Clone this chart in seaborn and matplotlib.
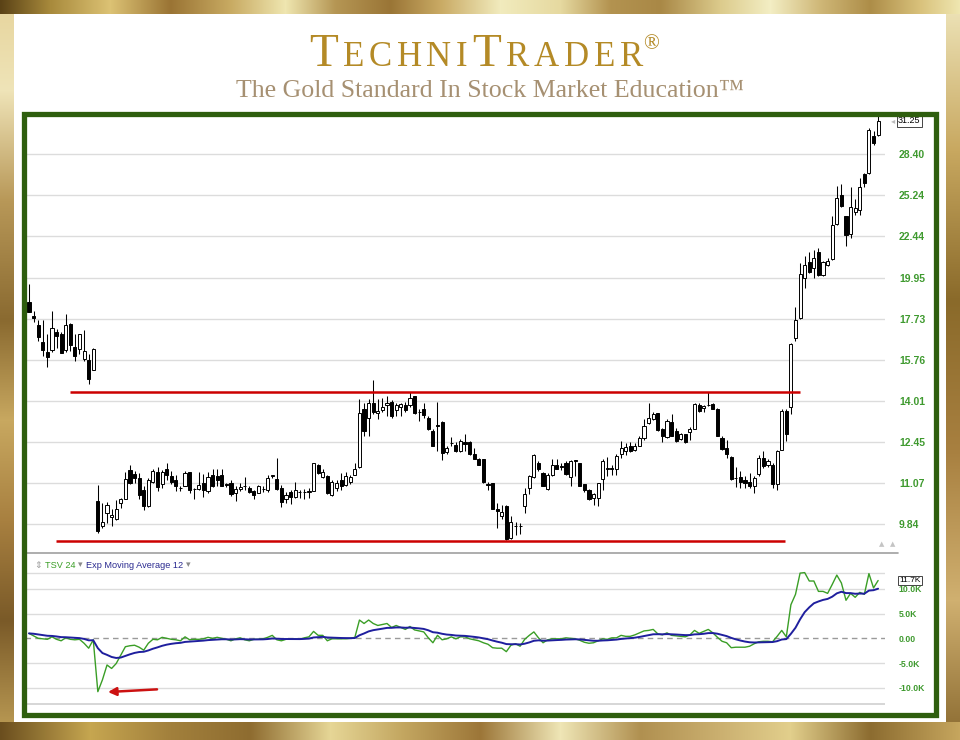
import numpy as np
import pandas as pd
import matplotlib
matplotlib.use("Agg")
import matplotlib.pyplot as plt
from matplotlib.colors import to_rgb
from matplotlib.patches import Rectangle
from matplotlib.lines import Line2D
from matplotlib.ticker import FixedLocator, NullLocator, NullFormatter
import seaborn as sns

# daily candles (oldest first)
OPEN = [18.61, 17.85, 17.39, 16.59, 16.11, 16.19, 17.07, 16.99, 16.19, 17.47,
        16.35, 16.24, 15.79, 15.76, 15.30, 10.51, 9.77, 10.16, 10.03, 9.98,
        10.46, 10.58, 11.48, 11.36, 11.23, 10.86, 10.36, 11.11, 11.43, 11.03,
        11.53, 11.28, 11.15, 10.91, 10.98, 11.42, 10.89, 10.88, 11.06, 10.81,
        11.34, 11.28, 11.34, 11.02, 11.06, 10.76, 10.88, 10.98, 10.91, 10.81,
        10.76, 10.88, 10.86, 11.30, 11.19, 10.90, 10.58, 10.78, 10.64, 10.78,
        10.79, 10.80, 10.83, 11.67, 11.26, 11.28, 10.68, 10.91, 11.17, 11.01,
        11.11, 11.34, 11.58, 13.67, 13.35, 13.92, 13.51, 13.64, 13.86, 13.98,
        13.64, 13.75, 13.86, 13.83, 14.19, 13.57, 13.67, 13.35, 12.84, 13.06,
        13.18, 12.09, 12.43, 12.35, 12.12, 12.46, 12.46, 12.04, 11.87, 11.84,
        11.02, 11.06, 10.28, 10.08, 10.36, 9.46, 9.79, 9.78, 10.36, 10.91,
        11.26, 11.71, 11.40, 10.89, 11.34, 11.64, 11.61, 11.71, 11.26, 11.81,
        11.71, 11.02, 10.86, 10.61, 10.61, 11.19, 11.52, 11.54, 11.51, 12.01,
        12.12, 12.32, 12.15, 12.32, 12.59, 13.13, 13.29, 13.51, 12.91, 12.63,
        13.20, 12.84, 12.55, 12.72, 12.80, 12.93, 13.86, 13.73, 13.85, 13.89,
        13.69, 12.59, 12.24, 11.93, 11.23, 11.26, 11.17, 11.11, 10.98, 11.37,
        11.90, 11.64, 11.67, 11.04, 12.18, 13.60, 13.77, 16.75, 17.77, 19.93,
        20.88, 20.50, 21.48, 20.07, 20.65, 21.04, 23.26, 25.24, 23.78, 22.58,
        24.10, 24.24, 26.87, 26.90, 29.96, 30.05]
HIGH = [19.57, 18.12, 17.68, 17.68, 16.96, 18.12, 17.23, 17.05, 17.95, 17.52,
        16.96, 16.99, 17.16, 16.00, 16.29, 11.01, 10.46, 10.48, 10.28, 10.53,
        10.61, 11.42, 11.64, 11.45, 11.40, 10.96, 11.23, 11.51, 11.60, 11.48,
        11.71, 11.45, 11.34, 10.98, 11.45, 11.42, 10.91, 11.42, 11.36, 11.42,
        11.53, 11.53, 11.51, 11.08, 11.17, 10.98, 11.06, 11.26, 10.96, 10.86,
        11.01, 10.98, 11.31, 11.34, 11.89, 11.01, 10.78, 10.86, 11.11, 10.86,
        10.88, 10.91, 11.73, 11.70, 11.51, 11.31, 11.17, 11.17, 11.40, 11.42,
        11.31, 11.71, 14.08, 13.94, 14.08, 14.87, 14.08, 14.12, 14.22, 14.05,
        13.94, 13.94, 13.98, 14.36, 14.22, 13.69, 13.92, 13.41, 12.91, 13.98,
        13.22, 12.32, 12.63, 12.46, 12.55, 12.75, 12.50, 12.24, 11.90, 11.87,
        11.11, 11.06, 10.44, 10.38, 10.38, 10.06, 9.91, 9.88, 10.91, 11.34,
        12.01, 11.79, 11.42, 11.40, 11.87, 11.84, 11.73, 11.79, 11.82, 11.82,
        11.73, 11.04, 10.88, 10.76, 11.08, 11.87, 11.94, 11.67, 12.01, 12.49,
        12.42, 12.46, 12.40, 12.65, 13.31, 13.94, 13.56, 13.54, 12.97, 13.29,
        13.48, 12.97, 12.78, 12.75, 13.01, 13.94, 13.92, 13.86, 14.36, 13.92,
        13.73, 12.65, 12.53, 11.95, 11.60, 11.45, 11.28, 11.40, 11.28, 11.98,
        12.12, 11.84, 11.73, 12.18, 13.67, 13.69, 16.53, 18.31, 20.80, 21.24,
        21.46, 21.60, 21.69, 20.94, 21.08, 23.82, 25.94, 26.07, 23.82, 25.89,
        25.01, 26.57, 26.94, 30.63, 30.33, 31.69]
LOW = [18.05, 17.55, 16.64, 15.95, 15.43, 16.11, 16.32, 16.05, 16.11, 16.16,
       15.71, 16.00, 15.71, 14.68, 15.30, 9.59, 9.73, 9.88, 9.77, 9.96,
       10.31, 10.56, 11.04, 11.06, 10.58, 10.24, 10.34, 11.06, 10.81, 10.92,
       11.17, 11.04, 10.81, 10.81, 10.96, 10.76, 10.56, 10.84, 10.63, 10.76,
       10.94, 10.98, 10.96, 10.93, 10.66, 10.51, 10.81, 10.86, 10.76, 10.58,
       10.74, 10.78, 10.78, 11.23, 10.86, 10.34, 10.46, 10.41, 10.61, 10.61,
       10.56, 10.61, 10.81, 11.37, 11.23, 10.71, 10.66, 10.81, 10.86, 10.96,
       11.04, 11.31, 11.56, 12.65, 12.65, 13.48, 13.29, 13.56, 13.41, 13.35,
       13.41, 13.41, 13.56, 13.78, 13.48, 13.22, 13.35, 12.88, 12.29, 12.12,
       11.82, 12.01, 12.32, 12.09, 12.09, 12.12, 11.98, 11.84, 11.64, 11.08,
       10.86, 10.26, 9.73, 9.98, 9.41, 9.43, 9.53, 9.55, 10.16, 10.71,
       11.23, 11.45, 10.96, 10.86, 11.28, 11.51, 11.48, 11.34, 10.98, 11.28,
       10.96, 10.78, 10.54, 10.38, 10.36, 10.86, 11.28, 11.31, 11.31, 11.90,
       11.98, 12.09, 12.12, 12.29, 12.53, 13.10, 13.26, 12.84, 12.46, 12.59,
       12.65, 12.46, 12.53, 12.41, 12.53, 12.91, 13.56, 13.56, 13.80, 13.67,
       12.65, 12.16, 11.90, 11.17, 10.94, 10.91, 10.91, 10.91, 10.74, 11.28,
       11.56, 11.60, 10.91, 10.86, 12.16, 12.50, 13.48, 16.64, 17.72, 19.38,
       20.23, 19.93, 20.03, 20.03, 20.60, 21.00, 23.19, 24.40, 21.85, 22.36,
       23.87, 23.87, 25.89, 26.82, 29.18, 29.96]
CLOSE = [18.07, 17.77, 16.80, 16.19, 15.87, 17.28, 16.88, 16.08, 17.39, 16.43,
         15.95, 16.99, 16.16, 14.93, 16.24, 9.64, 9.89, 10.38, 10.11, 10.28,
         10.56, 11.19, 11.06, 11.23, 10.68, 10.36, 11.17, 11.47, 10.93, 11.43,
         11.31, 11.11, 10.98, 10.90, 11.40, 10.86, 10.87, 11.01, 10.84, 11.26,
         10.98, 11.15, 10.98, 11.00, 10.71, 10.88, 10.94, 10.97, 10.80, 10.68,
         10.96, 10.89, 11.23, 11.31, 10.89, 10.48, 10.68, 10.64, 10.84, 10.79,
         10.78, 10.81, 11.71, 11.40, 11.42, 10.74, 11.11, 11.06, 10.98, 11.28,
         11.26, 11.51, 13.54, 12.84, 13.92, 13.56, 13.60, 13.77, 13.94, 13.41,
         13.86, 13.88, 13.64, 14.12, 13.51, 13.56, 13.44, 12.91, 12.32, 13.05,
         12.07, 12.24, 12.42, 12.12, 12.49, 12.37, 12.01, 11.87, 11.67, 11.11,
         11.01, 10.28, 10.21, 10.19, 9.43, 9.91, 9.78, 9.79, 10.71, 11.28,
         11.98, 11.53, 10.98, 11.34, 11.67, 11.53, 11.59, 11.37, 11.79, 11.80,
         10.98, 10.84, 10.56, 10.71, 11.06, 11.79, 11.54, 11.53, 11.96, 12.24,
         12.27, 12.12, 12.29, 12.59, 13.03, 13.35, 13.50, 12.88, 12.65, 13.22,
         12.68, 12.49, 12.72, 12.46, 12.93, 13.89, 13.60, 13.82, 13.86, 13.69,
         12.68, 12.20, 12.01, 11.19, 11.22, 11.11, 11.08, 10.96, 11.23, 11.90,
         11.62, 11.79, 11.04, 12.12, 13.60, 12.75, 16.48, 17.68, 20.13, 20.68,
         20.27, 21.08, 20.07, 20.84, 20.94, 23.19, 25.08, 24.47, 22.51, 24.40,
         24.33, 25.89, 26.14, 30.48, 29.33, 31.25]

# TSV 24, thousands
TSV_K = [1.0, 0.5, 0.0, -0.1, -0.2, 0.3, -0.2, -0.5, 0.1, -0.2,
         -0.3, -0.2, -1.0, -2.0, -0.3, -10.8, -8.4, -5.4, -6.1, -5.1,
         -3.4, -1.7, -1.5, -1.4, -1.8, -2.4, -1.0, -0.2, -0.3, 0.2,
         0.0, -0.2, -0.3, -0.5, 0.3, -0.3, -0.2, -0.2, -0.1, 0.2,
         0.0, 0.2, 0.0, -0.2, -0.5, -0.1, 0.1, -0.3, -0.5, -0.2,
         -0.2, -0.1, 0.2, 0.6, -0.3, -0.5, -0.2, -0.2, -0.1, -0.2,
         0.1, 0.3, 1.4, 0.6, 0.6, -0.5, -0.1, -0.1, -0.1, -0.1,
         0.0, 0.2, 3.7, 3.0, 3.7, 3.0, 2.6, 2.8, 3.0, 2.2,
         2.6, 2.2, 1.8, 2.4, 1.7, 1.5, 1.3, 0.1, -0.9, 0.6,
         -0.3, -0.1, 0.3, -0.1, 0.3, 0.3, -0.1, -0.3, -0.5, -0.9,
         -1.2, -1.9, -2.0, -2.0, -2.7, -1.4, -1.1, -1.6, -0.2, 0.6,
         1.3, 0.1, -0.9, -0.3, -0.1, -0.1, -0.1, 0.1, 0.0, -0.1,
         -0.4, -0.8, -1.0, -0.9, -0.5, -0.1, -0.2, 0.1, 0.1, 0.6,
         0.4, 0.4, 0.7, 1.1, 1.5, 1.6, 1.8, 0.9, 0.7, 1.1,
         0.6, 0.5, 0.4, 0.3, 0.7, 1.6, 1.0, 1.4, 1.8, 1.1,
         0.2, -0.6, -0.9, -1.9, -1.8, -1.8, -1.8, -1.6, -1.1, -0.7,
         -0.6, -0.6, -0.7, 0.4, 1.6, 0.3, 6.8, 8.9, 13.2, 13.3,
         11.6, 11.6, 9.5, 9.5, 9.1, 10.9, 12.8, 11.2, 7.7, 9.1,
         8.3, 9.3, 8.9, 13.1, 10.2, 11.7]
EMA_SPAN = 12

PRICE_TICKS = [9.84, 11.07, 12.45, 14.01, 15.76, 17.73, 19.95, 22.44, 25.24, 28.40]
TSV_TICKS = [-10, -5, 0, 5, 10]
TSV_TICK_LABELS = ["-10.0K", "-5.0K", "0.00", "5.0K", "10.0K"]
TSV_GRID = [-10, -5, 5, 10, 13.2]

# drawn trend lines: (level, first bar, last bar)
RESISTANCE = (14.38, 9.0, 168.0)
SUPPORT = (9.37, 5.8, 164.7)
ARROW_TAIL = (28.5, -10.3)
ARROW_HEAD = (16.6, -10.9)

W, H = 960, 740
GOLD = "#b48a26"
TICK_GREEN = "#3f9a2f"


def fx(px):
    return px / W


def fy(py):
    return 1 - py / H


def gradient(stops, n):
    pos = [p for p, _ in stops]
    cols = np.array([to_rgb(c) for _, c in stops])
    grid = np.arange(n)
    return np.stack([np.interp(grid, pos, cols[:, k]) for k in range(3)], axis=1)


def draw_run(fig, pieces, x0, x1, base_y, color, family):
    r = fig.canvas.get_renderer()
    texts = [fig.text(0, fy(base_y), s, fontsize=size, family=family, color=color,
                      ha="left", va="baseline") for s, size in pieces]
    widths = [t.get_window_extent(r).width for t in texts]
    gap = (x1 - x0 - sum(widths)) / max(len(texts) - 1, 1)
    x = x0
    for t, w in zip(texts, widths):
        t.set_x(fx(x))
        x += w + gap


sns.set_style("white")
plt.rcParams["font.family"] = ["Liberation Sans", "DejaVu Sans"]

fig = plt.figure(figsize=(9.6, 7.4), dpi=100)

# gold picture frame
bg = fig.add_axes([0, 0, 1, 1], zorder=-5)
img = np.ones((H, W, 3))
top = gradient([(0, "#5a4216"), (50, "#a88a3c"), (110, "#dcc274"), (170, "#9a7434"),
                (230, "#c8aa62"), (285, "#efe6b0"), (335, "#b59654"), (390, "#9a7536"),
                (440, "#c9aa64"), (500, "#f1ebbd"), (560, "#e6d9a0"), (610, "#b39350"),
                (660, "#a98846"), (720, "#dccb8c"), (770, "#f3eec4"), (820, "#cfb777"),
                (870, "#ad8d48"), (920, "#d9c27c"), (959, "#efe6b0")], W)
bottom = gradient([(0, "#6a4e1e"), (90, "#c6a650"), (170, "#a2803c"), (250, "#8e6c30"),
                   (330, "#e6d696"), (400, "#c4a862"), (480, "#9c7638"), (560, "#efe6b6"),
                   (640, "#b09050"), (720, "#cbb070"), (790, "#e2cf8c"), (870, "#8c6c30"),
                   (959, "#c6a65e")], W)
left = gradient([(0, "#e6d49c"), (90, "#efe4b8"), (200, "#b89858"), (320, "#8a6a30"),
                 (420, "#c8a860"), (520, "#a88040"), (620, "#7a5a28"), (739, "#c0a058")], H)
right = gradient([(0, "#efe6bc"), (150, "#c8a860"), (300, "#8a6a2a"), (450, "#a88040"),
                  (600, "#d0b070"), (739, "#8a6a30")], H)
img[:, :14] = left[:, None, :]
img[:, 946:] = right[:, None, :]
img[:14] = top[None, :, :]
img[722:] = bottom[None, :, :]
bg.imshow(img, extent=(0, W, H, 0), aspect="auto", interpolation="bilinear")
bg.set_xlim(0, W)
bg.set_ylim(H, 0)
bg.axis("off")

# header
title = [("T", 34), ("E", 25), ("C", 25), ("H", 25), ("N", 25), ("I", 25),
         ("T", 34), ("R", 25), ("A", 25), ("D", 25), ("E", 25), ("R", 25)]
draw_run(fig, title, 309, 643, 66, GOLD, "Liberation Serif")
fig.text(fx(643), fy(49), "®", fontsize=15, family="Liberation Serif", color=GOLD,
         ha="left", va="baseline")
sub = fig.text(0.5, fy(97), "The Gold Standard In Stock Market Education™", fontsize=17,
               family="Liberation Serif", color="#a69072", ha="center", va="baseline")
sw = sub.get_window_extent(fig.canvas.get_renderer()).width
sub.set_fontsize(17 * 508 / sw)
sub.set_x(fx(490))

bars = np.arange(len(CLOSE))
o, h, l, c = (np.array(v) for v in (OPEN, HIGH, LOW, CLOSE))
xlim = (-0.87, 186.5)

# price panel
ax = fig.add_axes([fx(25), fy(550), 860 / W, (550 - 117) / H])
ax.set_facecolor("white")
ax.set_yscale("log")
ax.set_ylim(9.133, 31.61)
ax.set_xlim(*xlim)
ax.yaxis.set_major_locator(FixedLocator(PRICE_TICKS))
ax.yaxis.set_minor_locator(NullLocator())
ax.yaxis.set_minor_formatter(NullFormatter())
ax.set_yticklabels([f"{t:.2f}" for t in PRICE_TICKS])
ax.yaxis.tick_right()
ax.tick_params(axis="y", length=0, pad=10, labelsize=7.5, labelcolor=TICK_GREEN)
for lab in ax.get_yticklabels():
    lab.set_fontweight("bold")
ax.set_xticks([])
ax.grid(axis="y", color="#dcdcdc", lw=1.0)
for s in ax.spines.values():
    s.set_visible(False)

up = c >= o
lo_b, hi_b = np.minimum(o, c), np.maximum(o, c)
ax.vlines(bars, l, h, color="black", lw=0.75, zorder=2)
ax.bar(bars[up], (hi_b - lo_b)[up], bottom=lo_b[up], width=0.68, color="white",
       edgecolor="black", lw=0.7, zorder=3)
ax.bar(bars[~up], (hi_b - lo_b)[~up], bottom=lo_b[~up], width=0.68, color="black",
       edgecolor="black", lw=0.7, zorder=3)

for lvl, a, b in (RESISTANCE, SUPPORT):
    ax.hlines(lvl, a, b, color="#cc0000", lw=1.8, zorder=4)

ax.text(1.015, CLOSE[-1], f"{CLOSE[-1]:.2f}", transform=ax.get_yaxis_transform(),
        fontsize=6.5, color="black", ha="left", va="center",
        bbox=dict(boxstyle="square,pad=0.15", fc="white", ec="#444444", lw=0.7))
ax.text(1.012, CLOSE[-1], "◂", transform=ax.get_yaxis_transform(), fontsize=6,
        color="#bbbbbb", ha="right", va="center", family="DejaVu Sans")
for xa in (0.9965, 1.009):
    ax.text(xa, 0.014, "▲", transform=ax.transAxes, fontsize=5, color="#c4c4c4",
            ha="center", va="center", family="DejaVu Sans")

# TSV panel
tsv = pd.Series(TSV_K)
ema = tsv.ewm(span=EMA_SPAN, adjust=False).mean()

ax2 = fig.add_axes([fx(25), fy(706), 860 / W, (706 - 553) / H])
ax2.set_facecolor("white")
ax2.set_xlim(*xlim)
ax2.set_ylim(-13.7, 17.27)
for g in TSV_GRID:
    ax2.axhline(g, color="#dcdcdc", lw=1.0, zorder=0)
ax2.axhline(-13.3, color="#d0d0d0", lw=1.2, zorder=0)
ax2.axhline(0, color="#9a9a9a", lw=1.0, ls=(0, (4, 3)), zorder=1)
sns.lineplot(x=bars, y=tsv.values, ax=ax2, color="#3a9e26", lw=1.0, zorder=3)
sns.lineplot(x=bars, y=ema.values, ax=ax2, color="#1f1f9e", lw=1.4, zorder=4)
ax2.set_yticks(TSV_TICKS)
ax2.set_yticklabels(TSV_TICK_LABELS)
ax2.yaxis.tick_right()
ax2.tick_params(axis="y", length=0, pad=10, labelsize=6.2, labelcolor=TICK_GREEN)
for lab in ax2.get_yticklabels():
    lab.set_fontweight("bold")
ax2.set_xticks([])
ax2.set_xlabel("")
ax2.set_ylabel("")
for s in ax2.spines.values():
    s.set_visible(False)

ax2.text(1.017, TSV_K[-1], f"{TSV_K[-1]:.1f}K", transform=ax2.get_yaxis_transform(),
         fontsize=6, color="black", ha="left", va="center",
         bbox=dict(boxstyle="square,pad=0.15", fc="white", ec="#444444", lw=0.7))
ax2.annotate("", xy=ARROW_HEAD, xytext=ARROW_TAIL,
             arrowprops=dict(arrowstyle="-|>", color="#cc1111", lw=1.8, mutation_scale=12))

# indicator legend
r = fig.canvas.get_renderer()
xpos = 34
for s, col in (("⇕", "#9a9a9a"), ("TSV 24", "#3a9e26"), ("▾", "#8a8a8a"),
               ("Exp Moving Average 12", "#2a2a90"), ("▾", "#8a8a8a")):
    t = fig.text(fx(xpos), fy(565), s, fontsize=6.6, color=col, ha="left", va="center")
    xpos += t.get_window_extent(r).width + 3

fig.add_artist(Line2D([fx(25), fx(898)], [fy(553), fy(553)], transform=fig.transFigure,
                      color="#a0a0a0", lw=1.2))

# green chart frame
fig.add_artist(Rectangle((fx(24), fy(714.5)), (936 - 24) / W, (714.5 - 114) / H,
                         transform=fig.transFigure, fill=False, ec="#2e5e0e", lw=3.8,
                         zorder=10))

fig.savefig("out.png", dpi=100)
